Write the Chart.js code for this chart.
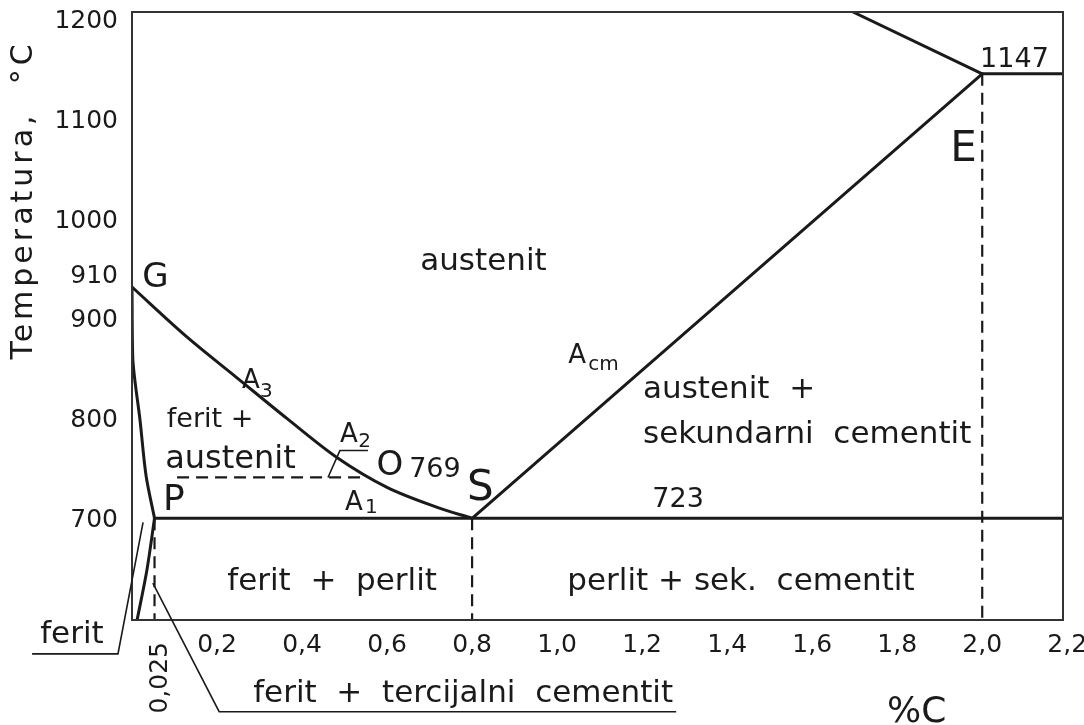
<!DOCTYPE html>
<html>
<head>
<meta charset="utf-8">
<script src="https://cdn.jsdelivr.net/npm/chart.js@4.4.1/dist/chart.umd.min.js"></script>
<style>
  html, body { margin: 0; padding: 0; background: #fff; }
</style>
</head>
<body>
<canvas id="canvas1" width="1084" height="725"></canvas>
<script>
// axis ticks
var carbonTicks = [0.2, 0.4, 0.6, 0.8, 1.0, 1.2, 1.4, 1.6, 1.8, 2.0, 2.2];
var tempTicks = [700, 800, 900, 1000, 1100, 1200];

// phase lines, x = %C, y = temperature as placed in the drawing
var gosC = [0, 0.129, 0.247, 0.365, 0.482, 0.600, 0.718, 0.8];
var gosT = [934, 884, 843, 802, 763, 733, 713, 702];
var gpC = [0, 0.002, 0.019, 0.033, 0.053];
var gpT = [934, 861, 800, 745, 702];
var pqC = [0.012, 0.035, 0.053];
var pqT = [600, 650, 702];
var pskC = [0.053, 2.19];
var pskT = [702, 702];
var seC = [0.8, 2.0];
var seT = [702, 1148];
var ecC = [2.0, 2.19];
var ecT = [1148, 1148];
var liqC = [1.696, 2.0];
var liqT = [1210, 1148];

// dashed lines
var curieC = [0.106, 0.544];
var curieT = [743, 743];
var pDashC = [0.053, 0.053];
var pDashT = [702, 600];
var sDashC = [0.8, 0.8];
var sDashT = [702, 600];
var eDashC = [2.0, 2.0];
var eDashT = [1148, 600];
var a2MarkC = [0.461, 0.489, 0.555];
var a2MarkT = [743, 770, 770];

var FONT = "'DejaVu Sans', sans-serif";
var INK = '#1a1a1a';

function pts(xs, ys) {
	return xs.map(function(x, i) { return { x: x, y: ys[i] }; });
}

// curve: 'monotone' or a bezier tension, straight when left out
function solid(xs, ys, curve) {
	var ds = { data: pts(xs, ys), showLine: true, borderColor: INK, borderWidth: 3, pointRadius: 0, borderCapStyle: 'round', borderJoinStyle: 'round' };
	if (curve === 'monotone') ds.cubicInterpolationMode = 'monotone';
	else if (curve) ds.tension = curve;
	return ds;
}

function dashed(xs, ys) {
	return { data: pts(xs, ys), showLine: true, borderColor: INK, borderWidth: 2.2, borderDash: [12, 7], pointRadius: 0 };
}

// text on the drawing: [text, %C, °C, size, align]
var notes = [
	['G', 0.024, 934, 34],
	['910', -0.033, 938, 25, 'right'],
	['austenit', 0.678, 951, 31],
	['A', 0.259, 833, 26], ['3', 0.301, 824, 20],
	['ferit +', 0.082, 794, 27],
	['austenit', 0.078, 752, 32],
	['A', 0.489, 779, 26], ['2', 0.532, 774, 20],
	['O', 0.575, 745, 34],
	['769', 0.652, 743, 27],
	['S', 0.788, 720, 42],
	['A', 0.501, 710, 26], ['1', 0.548, 707, 20],
	['P', 0.073, 710, 36],
	['A', 1.026, 858, 26], ['cm', 1.073, 851, 20],
	['austenit  +', 1.202, 823, 31],
	['sekundarni  cementit', 1.202, 778, 31],
	['723', 1.224, 713, 27],
	['1147', 1.995, 1155, 27],
	['E', 1.925, 1061, 42],
	['ferit  +  perlit', 0.224, 630, 31],
	['perlit + sek.  cementit', 1.024, 630, 31],
	['ferit  +  tercijalni  cementit', 0.285, 518, 31],
	['ferit', -0.216, 577, 31],
	['%C', 1.776, 498, 36]
];

// leader lines: lists of [%C, °C]
var leaders = [
	[[-0.235, 566], [-0.033, 566], [0.026, 698]],
	[[0.049, 637], [0.205, 508], [1.28, 508]]
];

var drawingText = {
	id: 'drawingText',
	afterDraw: function(chart) {
		var ctx = chart.ctx, xs = chart.scales.x, ys = chart.scales.y, a = chart.chartArea;
		ctx.save();
		ctx.strokeStyle = '#333';
		ctx.lineWidth = 2;
		ctx.strokeRect(a.left, a.top, a.right - a.left, a.bottom - a.top);

		ctx.strokeStyle = INK;
		ctx.lineWidth = 1.6;
		leaders.forEach(function(l) {
			ctx.beginPath();
			l.forEach(function(p, i) {
				var px = xs.getPixelForValue(p[0]), py = ys.getPixelForValue(p[1]);
				if (i) ctx.lineTo(px, py); else ctx.moveTo(px, py);
			});
			ctx.stroke();
		});

		ctx.fillStyle = INK;
		ctx.textBaseline = 'alphabetic';
		notes.forEach(function(n) {
			ctx.font = n[3] + 'px ' + FONT;
			ctx.textAlign = n[4] || 'left';
			ctx.fillText(n[0], xs.getPixelForValue(n[1]), ys.getPixelForValue(n[2]));
		});

		// 0,025 under the P line
		ctx.save();
		ctx.translate(xs.getPixelForValue(0.068), ys.getPixelForValue(542));
		ctx.rotate(-Math.PI / 2);
		ctx.font = '25px ' + FONT;
		ctx.textAlign = 'center';
		ctx.textBaseline = 'middle';
		ctx.fillText('0,025', 0, 0);
		ctx.restore();

		// axis title
		ctx.save();
		ctx.translate(a.left - 108, a.top + 188);
		ctx.rotate(-Math.PI / 2);
		ctx.font = '30px ' + FONT;
		ctx.letterSpacing = '4px';
		ctx.textAlign = 'center';
		ctx.textBaseline = 'middle';
		ctx.fillText('Temperatura,  \u00B0C', 0, 0);
		ctx.restore();

		ctx.restore();
	}
};

var myChart = {
	type: 'scatter',
	data: {
		datasets: [
			solid(gosC, gosT, 'monotone'),
			solid(gpC, gpT, 0.3),
			solid(pqC, pqT, 0.3),
			solid(pskC, pskT),
			solid(seC, seT),
			solid(ecC, ecT),
			solid(liqC, liqT),
			dashed(curieC, curieT),
			dashed(pDashC, pDashT),
			dashed(sDashC, sDashT),
			dashed(eDashC, eDashT),
			{ data: pts(a2MarkC, a2MarkT), showLine: true, borderColor: INK, borderWidth: 1.6, pointRadius: 0 }
		]
	},
	options: {
		responsive: false,
		animation: false,
		layout: { padding: { top: 12, right: 21, left: 0, bottom: 0 } },
		plugins: { legend: { display: false }, tooltip: { enabled: false } },
		scales: {
			x: {
				type: 'linear', min: 0, max: 2.19,
				grid: { display: false }, border: { display: false },
				afterBuildTicks: function(s) { s.ticks = carbonTicks.map(function(v) { return { value: v }; }); },
				afterFit: function(s) { s.height = 105; s.paddingLeft = 0; s.paddingRight = 0; },
				ticks: {
					autoSkip: false, maxRotation: 0, padding: 2, color: INK,
					font: { family: FONT, size: 25 },
					callback: function(v) { return v.toFixed(1).replace('.', ','); }
				}
			},
			y: {
				type: 'linear', min: 600, max: 1210,
				grid: { display: false }, border: { display: false },
				afterBuildTicks: function(s) { s.ticks = tempTicks.map(function(v) { return { value: v }; }); },
				afterFit: function(s) { s.width = 132; s.paddingTop = 0; s.paddingBottom = 0; },
				ticks: { padding: 6, color: INK, font: { family: FONT, size: 25 }, callback: function(v) { return String(v); } }
			}
		}
	},
	plugins: [drawingText]
};

window.onload = function() {
	var ctx = document.getElementById('canvas1').getContext('2d');
	new Chart(ctx, myChart);
};
</script>
</body>
</html>
